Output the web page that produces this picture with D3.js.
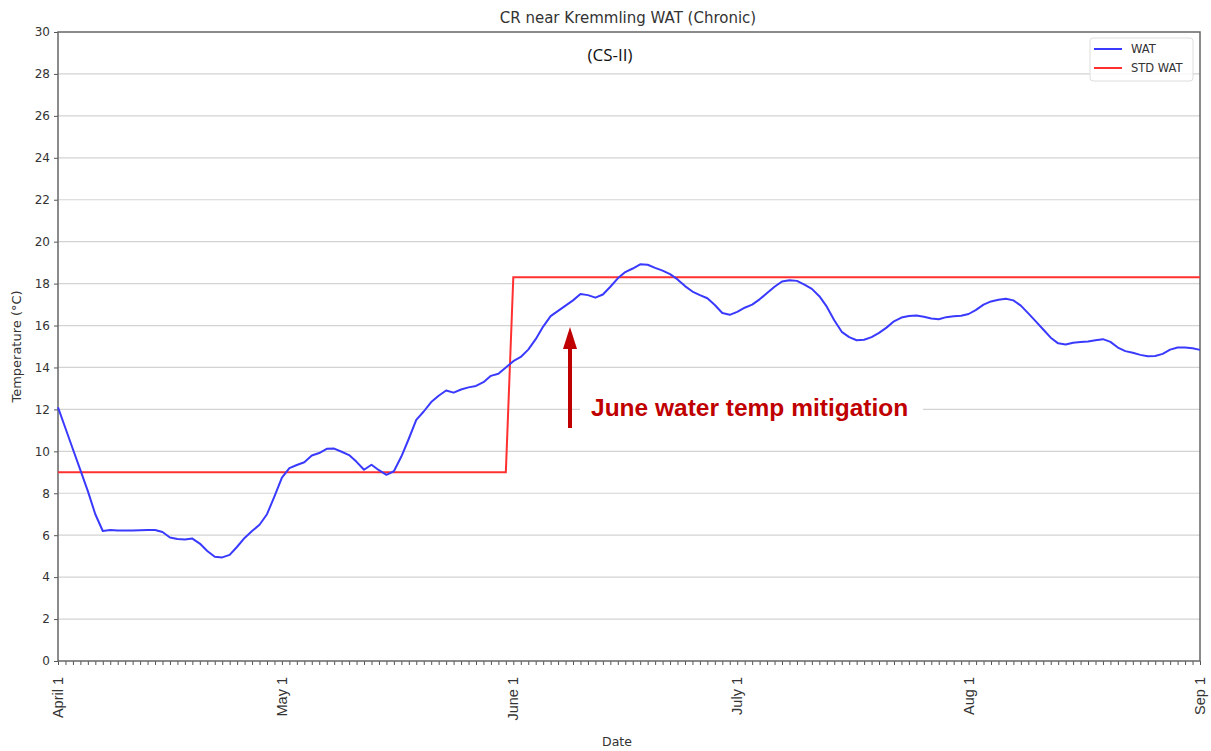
<!DOCTYPE html>
<html>
<head>
<meta charset="utf-8">
<script src="https://cdn.jsdelivr.net/npm/d3@7"></script>
<style>
  body { margin: 0; background: #fff; }
  svg { display: block; }
</style>
</head>
<body>
<script>
// daily water temperature, April 1 .. Sep 1
const watValues = [
  12.1, 11.1, 10.1, 9.1, 8.1, 7.0, 6.2, 6.25, 6.22, 6.22,
  6.23, 6.24, 6.25, 6.25, 6.15, 5.89, 5.82, 5.80, 5.84, 5.6,
  5.25, 4.97, 4.94, 5.06, 5.45, 5.87, 6.2, 6.5, 7.0, 7.85,
  8.75, 9.2, 9.35, 9.48, 9.8, 9.92, 10.12, 10.13, 9.98, 9.82,
  9.5, 9.12, 9.36, 9.1, 8.88, 9.05, 9.75, 10.6, 11.5, 11.9,
  12.35, 12.65, 12.9, 12.8, 12.95, 13.05, 13.12, 13.3, 13.6, 13.7,
  14.0, 14.3, 14.5, 14.85, 15.35, 15.95, 16.45, 16.7, 16.95, 17.2,
  17.5, 17.45, 17.33, 17.48, 17.85, 18.25, 18.55, 18.72, 18.92, 18.9,
  18.75, 18.62, 18.45, 18.2, 17.88, 17.62, 17.45, 17.3, 16.98, 16.6,
  16.51, 16.65, 16.85, 17.0, 17.25, 17.55, 17.85, 18.1, 18.16, 18.13,
  17.95, 17.75, 17.4, 16.9, 16.25, 15.7, 15.45, 15.3, 15.32, 15.45,
  15.65, 15.9, 16.2, 16.38, 16.45, 16.48, 16.42, 16.34, 16.3, 16.4,
  16.44, 16.47, 16.55, 16.75, 17.0, 17.15, 17.23, 17.28, 17.2, 16.95,
  16.58, 16.2, 15.81, 15.42, 15.15, 15.1, 15.18, 15.22, 15.24, 15.3,
  15.35, 15.22, 14.95, 14.78, 14.7, 14.6, 14.53, 14.55, 14.65, 14.85,
  14.95, 14.95, 14.92, 14.84
];
// chronic standard: 9.0 through May, 18.3 from June 1
const stdLevels = [9.0, 18.3];
const stdChangeDay = 61;

const startDate = "2021-04-01";
const monthLabels = ["April 1", "May 1", "June 1", "July 1", "Aug 1", "Sep 1"];
const monthDates = ["2021-04-01", "2021-05-01", "2021-06-01", "2021-07-01", "2021-08-01", "2021-09-01"];
const yTicks = [0, 2, 4, 6, 8, 10, 12, 14, 16, 18, 20, 22, 24, 26, 28, 30];

const width = 1211, height = 751;
const margin = {left: 58, right: 11, top: 32, bottom: 90};

const svg = d3.select("body").append("svg")
  .attr("width", width)
  .attr("height", height);

const parse = d3.utcParse("%Y-%m-%d");
const t0 = parse(startDate);
const day = (i) => d3.utcDay.offset(t0, i);

const watData = watValues.map((v, i) => ({date: day(i), value: v}));
const stdData = watValues.map((v, i) => ({date: day(i), value: i < stdChangeDay ? stdLevels[0] : stdLevels[1]}));

const x = d3.scaleUtc()
  .domain([parse(monthDates[0]), parse(monthDates[monthDates.length - 1])])
  .range([margin.left, width - margin.right]);

const y = d3.scaleLinear()
  .domain([0, 30])
  .range([height - margin.bottom, margin.top]);

// grid lines
svg.append("g")
  .selectAll("line")
  .data(yTicks.slice(1, -1))
  .enter()
  .append("line")
    .attr("x1", margin.left)
    .attr("x2", width - margin.right)
    .attr("y1", (d) => y(d))
    .attr("y2", (d) => y(d))
    .attr("stroke", "#d3d3d3")
    .attr("stroke-width", 1.2);

// y axis
const yAxis = d3.axisLeft(y).tickValues(yTicks).tickSize(4).tickPadding(4);
const gy = svg.append("g")
  .attr("transform", "translate(" + margin.left + ",0)")
  .call(yAxis);
gy.select(".domain").remove();
gy.selectAll("line").attr("stroke", "#555");
gy.selectAll("text")
  .style("font-family", "DejaVu Sans, sans-serif")
  .style("font-size", "12px")
  .attr("fill", "#333");

// x axis, one tick per day, labels on the first of each month
const allDays = d3.utcDay.range(x.domain()[0], d3.utcDay.offset(x.domain()[1], 1));
const xAxis = d3.axisBottom(x).tickValues(allDays).tickSize(4).tickFormat("");
const gx = svg.append("g")
  .attr("transform", "translate(0," + (height - margin.bottom) + ")")
  .call(xAxis);
gx.select(".domain").remove();
gx.selectAll("line").attr("stroke", "#555");

svg.append("g")
  .selectAll("text")
  .data(monthDates)
  .enter()
  .append("text")
    .attr("transform", (d) => "translate(" + (x(parse(d)) + 5) + "," + (height - margin.bottom + 16) + ")rotate(-90)")
    .attr("text-anchor", "end")
    .style("font-family", "Liberation Sans, Arial, sans-serif")
    .style("font-size", "14.5px")
    .attr("fill", "#333")
    .text((d, i) => monthLabels[i]);

// frame
svg.append("rect")
  .attr("x", margin.left)
  .attr("y", margin.top)
  .attr("width", width - margin.left - margin.right)
  .attr("height", height - margin.top - margin.bottom)
  .attr("fill", "none")
  .attr("stroke", "#666")
  .attr("stroke-width", 1.5);

// annotation background hides the gridline
svg.append("rect")
  .attr("x", 580)
  .attr("y", 396)
  .attr("width", 343)
  .attr("height", 26)
  .attr("fill", "#fff");

// lines
const line = d3.line()
  .x((d) => x(d.date))
  .y((d) => y(d.value));

svg.append("path")
  .datum(stdData)
  .attr("fill", "none")
  .attr("stroke", "#ff3030")
  .attr("stroke-width", 2)
  .attr("d", line);

svg.append("path")
  .datum(watData)
  .attr("fill", "none")
  .attr("stroke", "#3a3aff")
  .attr("stroke-width", 2)
  .attr("stroke-linejoin", "round")
  .attr("d", line);

// titles and labels
svg.append("text")
  .attr("x", 628)
  .attr("y", 23)
  .attr("text-anchor", "middle")
  .style("font-family", "DejaVu Sans, sans-serif")
  .style("font-size", "15px")
  .attr("fill", "#333")
  .text("CR near Kremmling WAT (Chronic)");

svg.append("text")
  .attr("x", 610)
  .attr("y", 61)
  .attr("text-anchor", "middle")
  .style("font-family", "Open Sans, sans-serif")
  .style("font-size", "17px")
  .attr("fill", "#111")
  .text("(CS-II)");

svg.append("text")
  .attr("transform", "translate(21," + ((margin.top + height - margin.bottom) / 2) + ")rotate(-90)")
  .attr("text-anchor", "middle")
  .style("font-family", "DejaVu Sans, sans-serif")
  .style("font-size", "13px")
  .attr("fill", "#333")
  .text("Temperature (°C)");

svg.append("text")
  .attr("x", 617)
  .attr("y", 746)
  .attr("text-anchor", "middle")
  .style("font-family", "DejaVu Sans, sans-serif")
  .style("font-size", "12.5px")
  .attr("fill", "#333")
  .text("Date");

// annotation text and arrow
svg.append("text")
  .attr("x", 591)
  .attr("y", 416)
  .style("font-family", "Liberation Sans, Arial, sans-serif")
  .style("font-size", "24.5px")
  .style("font-weight", "bold")
  .attr("fill", "#c00000")
  .text("June water temp mitigation");

svg.append("line")
  .attr("x1", 570).attr("x2", 570)
  .attr("y1", 428).attr("y2", 345)
  .attr("stroke", "#c00000")
  .attr("stroke-width", 4);
svg.append("path")
  .attr("d", "M570,327 L577,349 L563,349 Z")
  .attr("fill", "#c00000");

// legend
const legend = svg.append("g").attr("transform", "translate(1090,38)");
legend.append("rect")
  .attr("width", 103)
  .attr("height", 43)
  .attr("rx", 3)
  .attr("fill", "#fff")
  .attr("fill-opacity", 0.85)
  .attr("stroke", "#ddd");
const legendItems = [
  {label: "WAT", color: "#3a3aff"},
  {label: "STD WAT", color: "#ff3030"}
];
legendItems.forEach((item, i) => {
  legend.append("line")
    .attr("x1", 4).attr("x2", 32)
    .attr("y1", 11 + i * 19).attr("y2", 11 + i * 19)
    .attr("stroke", item.color)
    .attr("stroke-width", 2);
  legend.append("text")
    .attr("x", 41)
    .attr("y", 15 + i * 19)
    .style("font-family", "DejaVu Sans, sans-serif")
    .style("font-size", "11.5px")
    .attr("fill", "#333")
    .text(item.label);
});
</script>
</body>
</html>
